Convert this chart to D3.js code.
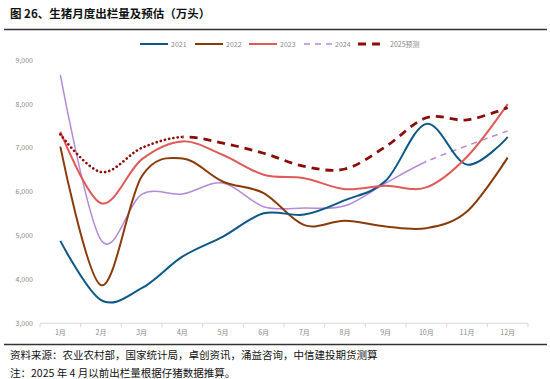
<!DOCTYPE html>
<html><head><meta charset="utf-8">
<script src="https://cdn.jsdelivr.net/npm/d3@7"></script>
<style>body{margin:0;background:#fff}svg{display:block}</style>
</head><body>
<script>
const months = ["1月","2月","3月","4月","5月","6月","7月","8月","9月","10月","11月","12月"];
const yTicks = [3000,4000,5000,6000,7000,8000,9000];
const s2021 = [4880,3530,3800,4520,4980,5510,5480,5810,6250,7550,6620,7250];
const s2022 = [7030,3870,6350,6760,6230,5970,5240,5340,5210,5170,5550,6780];
const s2023 = [7370,5740,6740,7150,6840,6390,6310,6060,6140,6100,6800,8000];
const s2024 = [8670,4900,5940,5950,6200,5660,5630,5680,6200,6690,7050,7390];
const s2025 = [7310,6450,7000,7250,7110,6880,6580,6520,7030,7690,7640,7920];
const seriesNames = ["2021","2022","2023","2024","2025预测"];

const W=550,H=379;
const svg=d3.select("body").append("svg").attr("width",W).attr("height",H);
const font="'Noto Sans CJK SC','Noto Sans',sans-serif";

svg.append("text").attr("x",10).attr("y",18).attr("font-family",font).attr("font-weight","bold")
  .attr("font-size",11.5).attr("fill","#111").text("图 26、生猪月度出栏量及预估（万头）");
svg.append("line").attr("x1",4).attr("x2",547).attr("y1",29.5).attr("y2",29.5).attr("stroke","#333").attr("stroke-width",1.5);
svg.append("line").attr("x1",4).attr("x2",547).attr("y1",344.5).attr("y2",344.5).attr("stroke","#333").attr("stroke-width",1.5);
svg.append("text").attr("x",10).attr("y",359).attr("font-family",font).attr("font-size",10.5).attr("fill","#111")
  .text("资料来源：农业农村部，国家统计局，卓创资讯，涌益咨询，中信建投期货测算");
svg.append("text").attr("x",10).attr("y",377).attr("font-family",font).attr("font-size",10.5).attr("fill","#111")
  .text("注：2025 年 4 月以前出栏量根据仔猪数据推算。");

const x=d3.scaleBand().domain(months).range([40,528]);
const y=d3.scaleLinear().domain([3000,9000]).range([323.3,60.3]);
const cx=m=>x(m)+x.bandwidth()/2;

// axes
const gx=svg.append("g").attr("transform","translate(0,323.3)");
gx.append("line").attr("x1",40).attr("x2",528).attr("stroke","#d9d9d9");
months.concat(["end"]).forEach((m,i)=>{
  const xx=i<12?x(m):528;
  gx.append("line").attr("x1",xx).attr("x2",xx).attr("y1",0).attr("y2",4).attr("stroke","#d9d9d9");
});
gx.selectAll("text.m").data(months).enter().append("text").attr("x",d=>cx(d)).attr("y",12)
  .attr("text-anchor","middle").attr("font-family",font).attr("font-size",7).attr("fill","#888").text(d=>d);
svg.selectAll("text.yt").data(yTicks).enter().append("text").attr("x",33).attr("y",d=>y(d)+2.5)
  .attr("text-anchor","end").attr("font-family",font).attr("font-size",7).attr("fill","#888").text(d3.format(","));

// clip regions for split line styles
const defs=svg.append("defs");
function clip(id,x0,x1){defs.append("clipPath").attr("id",id).append("rect").attr("x",x0).attr("y",0).attr("width",x1-x0).attr("height",H);}
clip("c24a",0,cx("10月")); clip("c24b",cx("10月"),W);
clip("c25a",0,cx("4月")); clip("c25b",cx("4月"),W);

const line=d3.line().x(d=>cx(d.m)).y(d=>y(d.v)).curve(d3.curveCardinal.tension(0));
const pts=arr=>arr.map((v,i)=>({m:months[i],v}));
function draw(data,color,w,dash,cap,cl){
  svg.append("path").datum(data).attr("d",line).attr("fill","none").attr("stroke",color)
    .attr("stroke-width",w).attr("stroke-dasharray",dash||null).attr("stroke-linecap",cap||"butt")
    .attr("clip-path",cl?`url(#${cl})`:null);
}
const c={s2021:"#0b5787",s2022:"#8a3b0c",s2023:"#e05a5a",s2024:"#b58ad8",s2025:"#8b0a0a"};
draw(pts(s2024),c.s2024,1.5,null,null,"c24a");
draw(pts(s2024),c.s2024,1.5,"6,5",null,"c24b");
draw(pts(s2022),c.s2022,2);
draw(pts(s2021),c.s2021,2);
draw(pts(s2023),c.s2023,2);
draw(pts(s2025),c.s2025,2.6,"0.1,4.2","round","c25a");
draw(pts(s2025),c.s2025,2.8,"8,6",null,"c25b");

// legend
const lg=[{n:"2021",c:c.s2021,d:null,x:140},{n:"2022",c:c.s2022,d:null,x:195},{n:"2023",c:c.s2023,d:null,x:249},
  {n:"2024",c:c.s2024,d:"6,5",x:304},{n:"2025预测",c:c.s2025,d:"8,6",x:358}];
lg.forEach((l,i)=>{
  const len=i==4?24:28;
  svg.append("line").attr("x1",l.x).attr("x2",l.x+len).attr("y1",44).attr("y2",44).attr("stroke",l.c)
    .attr("stroke-width",i==4?2.8:(i==3?1.5:2)).attr("stroke-dasharray",l.d);
  svg.append("text").attr("x",i==4?390:l.x+31).attr("y",46.5).attr("font-family",font).attr("font-size",7)
    .attr("fill","#888").text(l.n);
});
</script>
</body></html>
